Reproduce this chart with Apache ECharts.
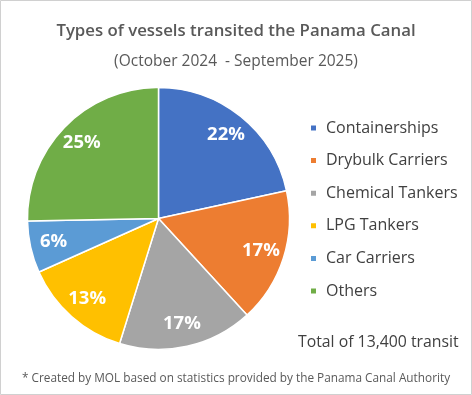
<!DOCTYPE html>
<html>
<head>
<meta charset="utf-8">
<script src="https://cdn.jsdelivr.net/npm/echarts@6/dist/echarts.min.js"></script>
<style>
html,body{margin:0;padding:0;background:#fff;}
#chart{width:472px;height:395px;}
</style>
</head>
<body>
<div id="chart"></div>
<script>
const categories = ['Containerships', 'Drybulk Carriers', 'Chemical Tankers', 'LPG Tankers', 'Car Carriers', 'Others'];
const shares = [21.6, 16.6, 16.6, 13.5, 6.4, 25.3];
const labels = ['22%', '17%', '17%', '13%', '6%', '25%'];
const colors = ['#4472C4', '#ED7D31', '#A5A5A5', '#FFC000', '#5B9BD5', '#70AD47'];
const titleText = 'Types of vessels transited the Panama Canal';
const subtitleText = '(October 2024  - September 2025)';
const totalText = 'Total of 13,400 transit';
const footText = '* Created by MOL based on statistics provided by the Panama Canal Authority';

const FONT = '"Open Sans", "Noto Sans", sans-serif';
const chart = echarts.init(document.getElementById('chart'), null, {renderer: 'canvas'});

const data = categories.map((c, i) => ({name: c, value: shares[i], itemStyle: {color: colors[i]}}));
const labelData = categories.map((c, i) => ({name: c, value: shares[i], label: {formatter: labels[i]}}));

chart.setOption({
  backgroundColor: '#fff',
  animation: false,
  title: [
    {text: titleText, left: 'center', top: 18, textStyle: {fontFamily: FONT, fontSize: 16.8, fontWeight: 600, color: '#595959'}},
    {text: subtitleText, left: 'center', top: 49, textStyle: {fontFamily: FONT, fontSize: 15.5, fontWeight: 'normal', color: '#595959'}},
    {text: totalText, left: 293, top: 329, textStyle: {fontFamily: FONT, fontSize: 15.8, fontWeight: 'normal', color: '#404040'}},
    {text: footText, left: 'center', top: 368, textStyle: {fontFamily: FONT, fontSize: 11.8, fontWeight: 'normal', color: '#595959'}}
  ],
  legend: {
    orient: 'vertical',
    left: 304,
    top: 113,
    icon: 'rect',
    itemWidth: 7,
    itemHeight: 7,
    itemGap: 12.6,
    selectedMode: false,
    data: categories,
    textStyle: {fontFamily: FONT, fontSize: 16, color: '#404040', lineHeight: 20, padding: [0, 0, 0, 4]}
  },
  graphic: [{
    type: 'rect', silent: true, z: 100,
    shape: {x: 0.5, y: 0.5, width: 471, height: 394},
    style: {fill: 'none', stroke: '#d0d0d0', lineWidth: 1}
  }],
  series: [
    {
      type: 'pie',
      center: [158.5, 218.5],
      radius: [0, 131],
      startAngle: 90,
      clockwise: true,
      silent: true,
      label: {show: false},
      labelLine: {show: false},
      itemStyle: {borderColor: '#fff', borderWidth: 1.5},
      data: data
    },
    {
      type: 'pie',
      center: [158.5, 218.5],
      radius: [78, 131],
      startAngle: 90,
      clockwise: true,
      silent: true,
      legendHoverLink: false,
      itemStyle: {color: 'rgba(0,0,0,0)', borderWidth: 0},
      label: {show: true, position: 'inside', color: '#fff', fontFamily: FONT, fontSize: 18.5, fontWeight: 'bold'},
      labelLine: {show: false},
      data: labelData
    }
  ]
});
</script>
</body>
</html>
